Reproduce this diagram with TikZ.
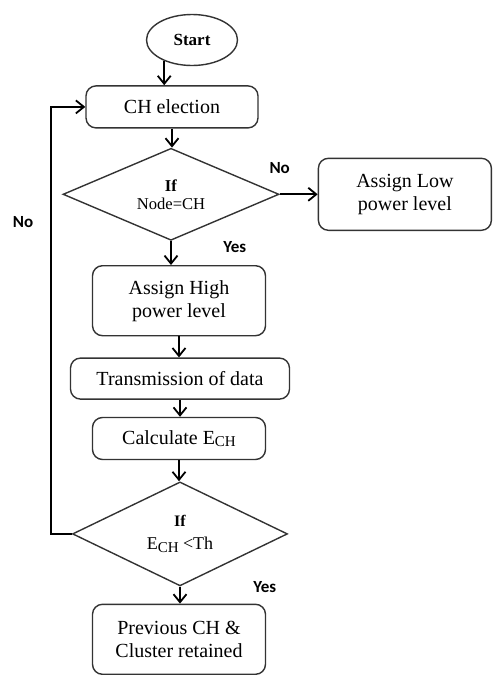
\documentclass[tikz,border=0pt]{standalone}
\usepackage{fontspec}
\setmainfont{Liberation Serif}
\newfontfamily\lblfont{Carlito}
\usetikzlibrary{arrows.meta,positioning,shapes.geometric}
\newcommand{\ech}{E\raisebox{-0.25ex}{\fontsize{7.5}{8}\selectfont CH}}

\begin{document}
\begin{tikzpicture}[
    box/.style={draw=black!80,rounded corners=5pt,line width=0.7pt,align=center,
      font=\fontsize{10}{11.5}\selectfont,inner sep=2pt},
    term/.style={ellipse,draw=black!80,line width=0.7pt,minimum width=45.5pt,
      minimum height=25.5pt,font=\bfseries\fontsize{8.5}{10}\selectfont,inner sep=0pt},
    dec/.style={diamond,draw=black!80,line width=0.7pt,shape aspect=2.3,
      inner sep=0pt,align=center},
    lbl/.style={font=\lblfont\bfseries\fontsize{8.5}{10}\selectfont,inner sep=1pt},
    arr/.style={-{Straight Barb[length=4pt,width=6.5pt]},line width=0.9pt}]
  \useasboundingbox (0,0) rectangle (250pt,-337.5pt);
  \node[term] (start) at (96pt,-20pt) {Start};
  \node[box, minimum width=86pt, minimum height=21pt, below=9.5pt of start, xshift=-10pt] (ch) {CH election};
  \node[dec, minimum width=108pt, minimum height=46pt, font=\fontsize{8.3}{9}\selectfont,
    below=9.5pt of ch, xshift=-0.5pt] (d1) {\textbf{If}\\Node=CH};
  \node[box, minimum width=86.5pt, minimum height=36pt, right=19pt of d1] (low) {Assign Low\\power level};
  \node[box, minimum width=86.5pt, minimum height=35pt, below=12pt of d1, xshift=4pt] (high) {Assign High\\power level};
  \node[box, minimum width=109.5pt, minimum height=20.5pt, below=10.5pt of high, xshift=0.5pt] (trans) {Transmission of data};
  \node[box, minimum width=86.5pt, minimum height=21pt, below=8.5pt of trans, xshift=-0.5pt] (calc) {Calculate \ech};
  \node[dec, minimum width=107.5pt, minimum height=52pt, font=\fontsize{9}{10.5}\selectfont,
    below=10.5pt of calc, xshift=0.5pt] (d2) {{\fontsize{8}{9}\selectfont\textbf{If}}\\[1pt]\ech{} <Th};
  \node[box, minimum width=86.5pt, minimum height=35pt, below=8.5pt of d2, xshift=-0.5pt] (prev) {Previous CH \&\\Cluster retained};
  \coordinate[left=10.25pt of d2.west] (back);
  % labels
  \node[lbl, above=9pt of d1.east] (no1) {No};
  \node[lbl, right=25pt of d1.south, yshift=-3pt] (yes1) {Yes};
  \node[lbl, right=35.5pt of d2.south] (yes2) {Yes};
  \node[lbl] (no2) at (11.5pt,-111pt) {No};
  % arrows
  \draw[arr] (start.217) -- (start.217 |- ch.north);
  \draw[arr] (ch.south) -- (ch.south |- d1.north);
  \draw[arr] (d1.east) -- (d1.east -| low.west);
  \draw[arr] (d1.south) -- (d1.south |- high.north);
  \draw[arr] (high.south) -- (high.south |- trans.north);
  \draw[arr] (trans.south) -- (trans.south |- calc.north);
  \draw[arr] (calc.south) -- (calc.south |- d2.north);
  \draw[arr] (d2.south) -- (d2.south |- prev.north);
  \draw[arr] (d2.west) -- (back) |- (ch.west);
\end{tikzpicture}
\end{document}
